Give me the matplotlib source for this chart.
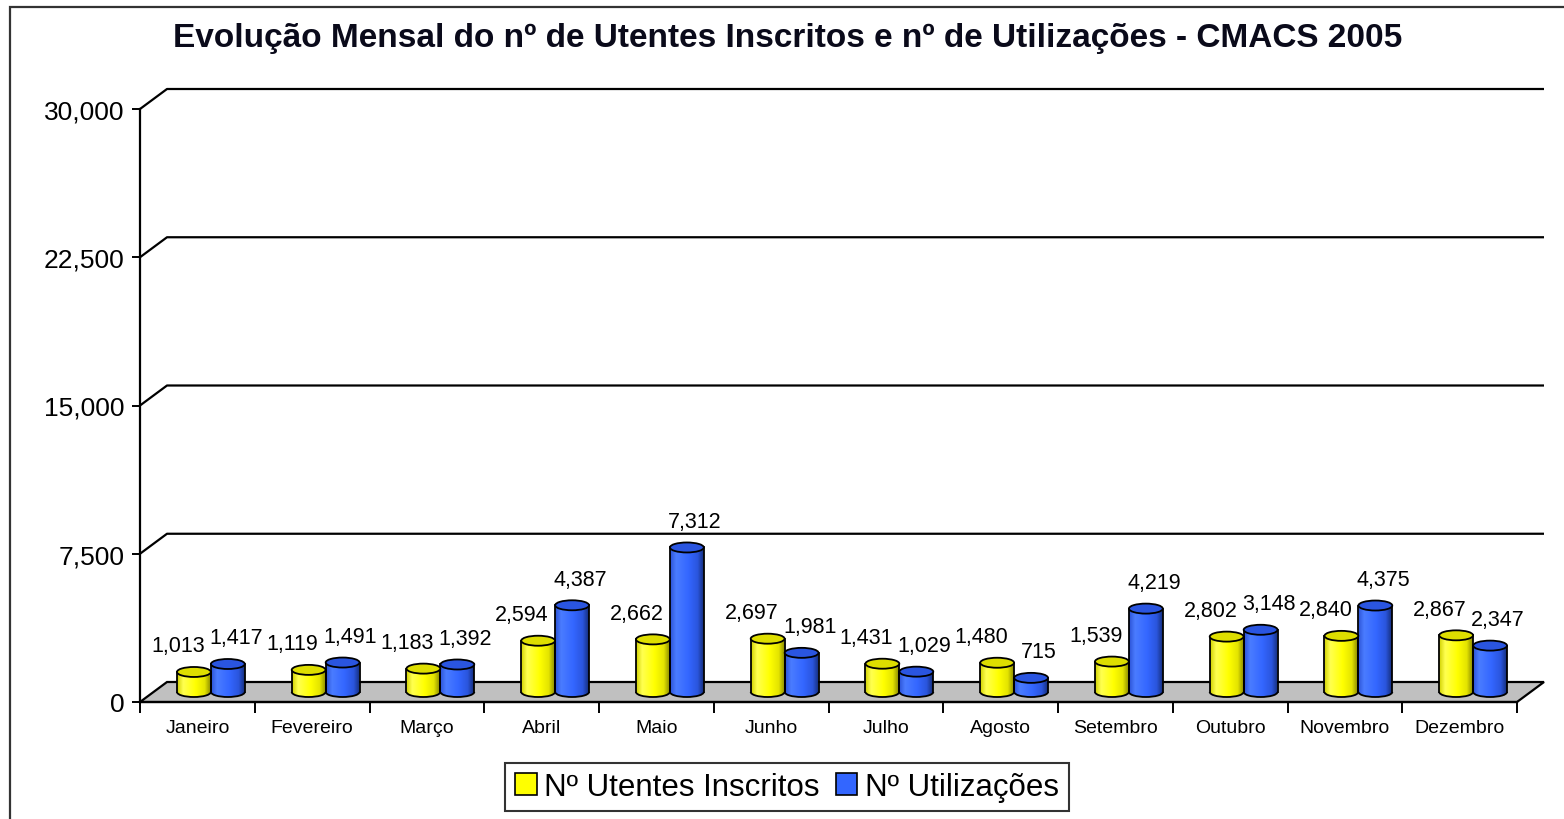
import numpy as np
import matplotlib
matplotlib.use('Agg')
import matplotlib.pyplot as plt
from matplotlib.patches import Polygon, Ellipse, Arc, Rectangle, PathPatch, Patch
from matplotlib.path import Path
from matplotlib.transforms import Affine2D
from matplotlib.colors import LinearSegmentedColormap

# ---------------- data ----------------
months = ['Janeiro', 'Fevereiro', 'Março', 'Abril', 'Maio', 'Junho',
          'Julho', 'Agosto', 'Setembro', 'Outubro', 'Novembro', 'Dezembro']
inscritos = [1013, 1119, 1183, 2594, 2662, 2697, 1431, 1480, 1539, 2802, 2840, 2867]
utilizacoes = [1417, 1491, 1392, 4387, 7312, 1981, 1029, 715, 4219, 3148, 4375, 2347]
series_names = ['Nº Utentes Inscritos', 'Nº Utilizações']
yticks = [0, 7500, 15000, 22500, 30000]
title = 'Evolução Mensal do nº de Utentes Inscritos e nº de Utilizações - CMACS 2005'

plt.rcParams['font.family'] = ['Liberation Sans', 'DejaVu Sans']

W, H = 1564, 820
fig = plt.figure(figsize=(W / 100, H / 100), dpi=100)
fig.patch.set_facecolor('white')

# axes box (front plane) in pixels
L, R, B, T = 140, 1517, 703, 110
ax = fig.add_axes([L / W, 1 - B / H, (R - L) / W, (B - T) / H])
n = len(months)
ymax = yticks[-1]
ax.set_xlim(0, n)
ax.set_ylim(0, ymax)
ax.set_facecolor('none')

px_x = n / (R - L)
px_y = ymax / (B - T)
DX = 27 * px_x   # depth offset
DY = 20 * px_y

# back wall gridlines with side-wall diagonal
for v in yticks[1:]:
    ax.plot([0, DX, n + DX], [v, v + DY, v + DY], color='black', lw=1.6,
            clip_on=False, zorder=1, solid_capstyle='butt')

# floor
floor = Polygon([(0, 0), (n, 0), (n + DX, DY), (DX, DY)], closed=True,
                facecolor='#c0c0c0', edgecolor='black', lw=1.6, clip_on=False, zorder=2)
ax.add_patch(floor)

# cylinders
cmap_y = LinearSegmentedColormap.from_list('y', [(0, '#d0d000'), (0.18, '#ffff50'),
                                                 (0.55, '#ffff00'), (0.82, '#e4e400'),
                                                 (1, '#8a8a00')])
cmap_b = LinearSegmentedColormap.from_list('b', [(0, '#2b52d6'), (0.18, '#4a7cff'),
                                                 (0.55, '#3366ff'), (0.82, '#2a55dd'),
                                                 (1, '#152e7a')])
grad = np.linspace(0, 1, 128).reshape(1, -1)
bw = 0.295
eh = 10 * px_y
bx, by = DX / 2, DY / 2

series = [(inscritos, cmap_y, '#dede00', -0.148, -16),
          (utilizacoes, cmap_b, '#2a55e0', 0.148, 8)]

for vals, cmap, capc, off, lab_dx in series:
    for i, val in enumerate(vals):
        xc = i + 0.5 + off + bx
        x0, x1 = xc - bw / 2, xc + bw / 2
        y0, y1 = by, by + val
        rect = Path([(x0, y0), (x1, y0), (x1, y1), (x0, y1), (x0, y0)],
                    [Path.MOVETO, Path.LINETO, Path.LINETO, Path.LINETO, Path.CLOSEPOLY])
        ell = Path.unit_circle().transformed(Affine2D().scale(bw / 2, eh / 2).translate(xc, y0))
        clip = PathPatch(Path.make_compound_path(rect, ell), transform=ax.transData)
        im = ax.imshow(grad, extent=[x0, x1, y0 - eh / 2, y1], cmap=cmap, aspect='auto',
                       interpolation='bilinear', zorder=3)
        im.set_clip_path(clip)
        ax.plot([x0, x0], [y0, y1], color='black', lw=1.3, zorder=4)
        ax.plot([x1, x1], [y0, y1], color='black', lw=1.3, zorder=4)
        ax.add_patch(Arc((xc, y0), bw, eh, theta1=180, theta2=360, color='black',
                         lw=1.3, zorder=4))
        ax.add_patch(Ellipse((xc, y1), bw, eh, facecolor=capc, edgecolor='black',
                             lw=1.3, zorder=5))
        ax.annotate(f'{val:,}', xy=(xc, y1), xytext=(lab_dx, 26),
                    textcoords='offset pixels', ha='center', va='center',
                    fontsize=15.5, color='black', zorder=6, annotation_clip=False)

ax.set_xlim(0, n)
ax.set_ylim(0, ymax)

# axes styling
for s in ['top', 'right']:
    ax.spines[s].set_visible(False)
ax.spines['left'].set_linewidth(1.6)
ax.spines['bottom'].set_linewidth(1.6)
ax.spines['left'].set_zorder(6)
ax.set_yticks(yticks)
ax.set_yticklabels([f'{v:,}' for v in yticks], fontsize=19)
ax.tick_params(axis='y', length=6, width=1.4, pad=5, colors='black')
ax.set_xticks(np.arange(n) + 0.5)
ax.set_xticklabels(months, fontsize=14)
ax.set_xticks(np.arange(n + 1), minor=True)
ax.tick_params(axis='x', which='major', length=0, pad=12)
ax.tick_params(axis='x', which='minor', length=8, width=1.4)

# title
fig.text(788 / W, 1 - 39 / H, title, ha='center', va='center', fontsize=24,
         fontweight='bold', color='#0a0a1a')

# legend
handles = [Patch(facecolor='#ffff00', edgecolor='black', lw=1.2),
           Patch(facecolor='#3366ff', edgecolor='black', lw=1.2)]
leg = fig.legend(handles, series_names, loc='center', bbox_to_anchor=(787 / W, 1 - 788 / H),
                 ncol=2, fontsize=22.5, frameon=True, fancybox=False, handlelength=0.7,
                 handleheight=0.7, handletextpad=0.25, columnspacing=0.5,
                 borderpad=0.3, borderaxespad=0)
leg.get_frame().set_edgecolor('black')
leg.get_frame().set_linewidth(1.5)

# outer chart border (cut off at right and bottom)
fig.patches.append(Rectangle((10 / W, -0.1), 1.2, 1 - 8 / H + 0.1, transform=fig.transFigure,
                             fill=False, edgecolor='#333333', lw=1.6))

fig.savefig('out.png', dpi=100)
